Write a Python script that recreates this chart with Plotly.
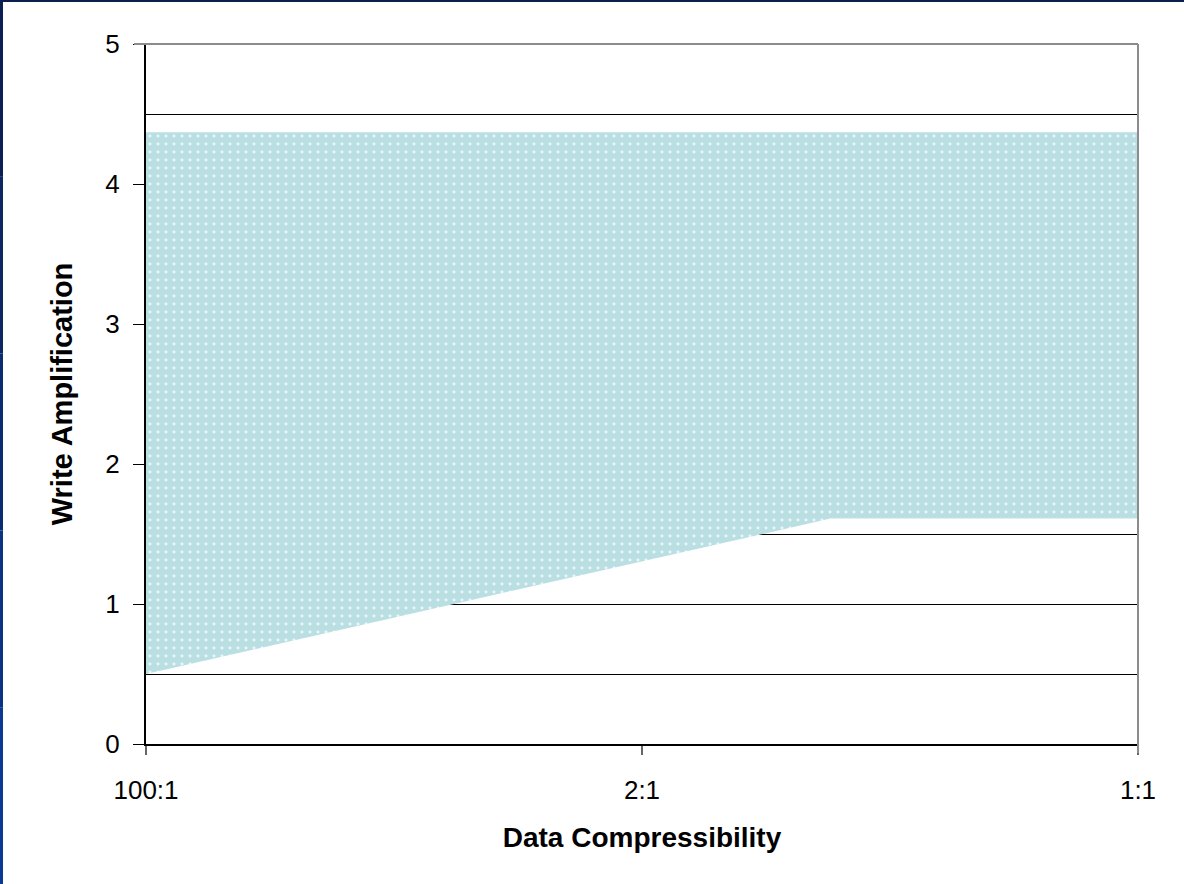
import plotly.graph_objects as go

# ---- data ----
x_labels = ["100:1", "2:1", "1:1"]
x_label_pos = [0, 1, 2]
x_pts = [0, 1.38, 2]
wa_lower = [0.5, 1.61, 1.61]
wa_upper = [4.37, 4.37, 4.37]

W, H = 1184, 884
ML, MR, MT, MB = 146, 46, 44, 140
PW, PH = W - ML - MR, H - MT - MB

def px_x(p):
    return (p - ML) / PW

def px_y(p):
    return (H - MB - p) / PH

fig = go.Figure()
fig.add_trace(go.Scatter(
    x=x_pts + x_pts[::-1],
    y=wa_upper + wa_lower[::-1],
    fill="toself",
    mode="lines",
    line=dict(width=0, color="#badfe3"),
    fillcolor="#badfe3",
    fillpattern=dict(shape=".", size=8, solidity=0.1, fgcolor="white",
                     fgopacity=0.75, bgcolor="#badfe3"),
    hoverinfo="skip",
    showlegend=False,
))

font = "Liberation Sans, Arial, sans-serif"

shapes = [
    dict(type="line", xref="paper", yref="paper", x0=px_x(134), x1=1, y0=1, y1=1,
         line=dict(color="#8c8c8c", width=2)),
    dict(type="line", xref="paper", yref="paper", x0=1, x1=1, y0=px_y(753), y1=1,
         line=dict(color="#8c8c8c", width=2)),
    dict(type="rect", xref="paper", yref="paper", x0=px_x(0), x1=px_x(W), y0=px_y(2), y1=px_y(0),
         fillcolor="#0b1f4f", line=dict(width=0), layer="above"),
]
left_cols = ["#0b1f52", "#0c2661", "#0c2c72", "#0c3284", "#0b3893"]
n = len(left_cols)
for i, c in enumerate(left_cols):
    shapes.append(dict(type="rect", xref="paper", yref="paper",
                       x0=px_x(0), x1=px_x(3),
                       y0=px_y(H * (i + 1) / n), y1=px_y(H * i / n),
                       fillcolor=c, line=dict(width=0), layer="above"))

fig.update_layout(
    width=W, height=H,
    margin=dict(l=ML, r=MR, t=MT, b=MB),
    paper_bgcolor="white", plot_bgcolor="white",
    font=dict(family=font, color="black"),
    shapes=shapes,
    xaxis=dict(
        range=[0, 2], tickvals=x_label_pos, ticktext=x_labels,
        showgrid=False, zeroline=False,
        showline=True, linecolor="black", linewidth=2,
        ticks="outside", ticklen=9, tickcolor="#666666", tickwidth=2,
        tickfont=dict(size=26, family=font),
        ticklabelstandoff=13,
        title=dict(text="<b>Data Compressibility</b>", font=dict(size=28, family=font), standoff=23),
    ),
    yaxis=dict(
        range=[0, 5], dtick=1, tick0=0,
        showgrid=True, gridcolor="black", gridwidth=1,
        minor=dict(dtick=0.5, tick0=0, showgrid=True, gridcolor="black", gridwidth=1),
        zeroline=False,
        showline=True, linecolor="black", linewidth=2,
        ticks="outside", ticklen=11, tickcolor="black", tickwidth=1,
        tickfont=dict(size=26, family=font),
        ticklabelstandoff=8,
        title=dict(text="<b>Write Amplification</b>", font=dict(size=29, family=font), standoff=24),
    ),
)

fig.write_html("out.html", config={"displayModeBar": False},
               post_script="document.body.style.margin='0';document.body.style.overflow='hidden';")
